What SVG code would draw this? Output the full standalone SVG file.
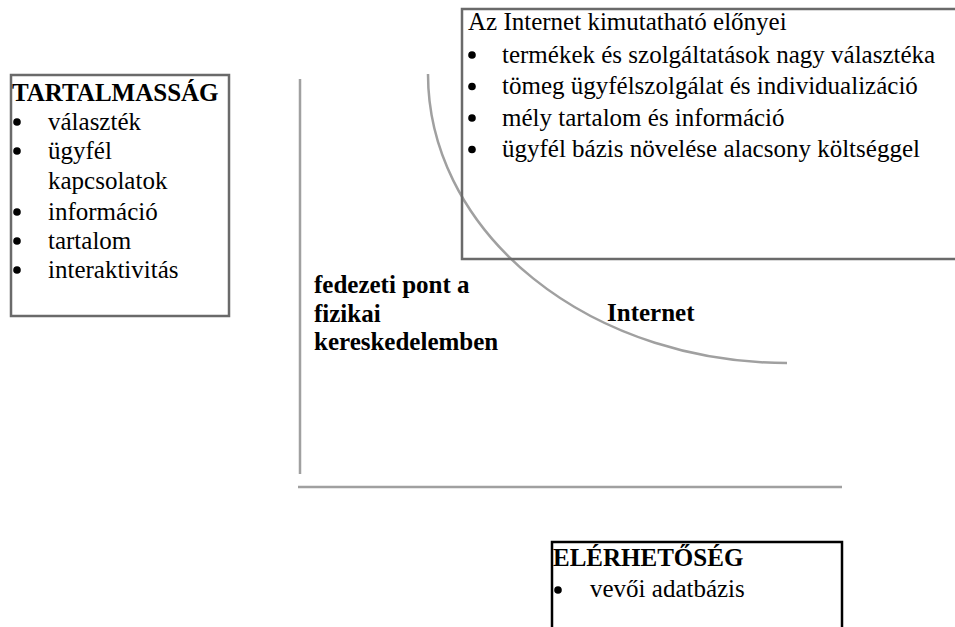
<svg xmlns="http://www.w3.org/2000/svg" width="955" height="627" viewBox="0 0 955 627">
<style>
.box{fill:none;stroke:#6a6a6a;stroke-width:2.5}
.boxk{fill:#fff;stroke:#000;stroke-width:2.5}
.ax{fill:none;stroke:#a0a0a0;stroke-width:2.5}
.t{font-family:"Liberation Serif","Times New Roman",serif;font-size:25px;fill:#000}
.b{font-weight:bold}
.dot{fill:#000}
</style>
<rect width="955" height="627" fill="#fff"/>
<g id="connectors">
<line class="ax" x1="300" y1="79" x2="300" y2="474"/>
<line class="ax" x1="298" y1="487" x2="842" y2="487"/>
<path class="ax" d="M 428 74 A 359 289 0 0 0 787 363"/>
</g>
<g id="tartalmassag">
<rect class="box" x="11" y="75" width="218" height="241"/>
<text class="t b" x="12" y="101">TARTALMASSÁG</text>
<circle class="dot" cx="17" cy="122" r="3.8"/>
<circle class="dot" cx="17" cy="151" r="3.8"/>
<circle class="dot" cx="17" cy="212" r="3.8"/>
<circle class="dot" cx="17" cy="241" r="3.8"/>
<circle class="dot" cx="17" cy="270" r="3.8"/>
<text class="t" x="48" y="130">választék</text>
<text class="t" x="48" y="159">ügyfél</text>
<text class="t" x="48" y="189">kapcsolatok</text>
<text class="t" x="48" y="220">információ</text>
<text class="t" x="48" y="249">tartalom</text>
<text class="t" x="48" y="278">interaktivitás</text>
</g>
<g id="internet-elonyei">
<rect class="box" x="462" y="9" width="500" height="250"/>
<text class="t" x="468" y="30">Az Internet kimutatható előnyei</text>
<circle class="dot" cx="472" cy="55" r="3.8"/>
<circle class="dot" cx="472" cy="86.5" r="3.8"/>
<circle class="dot" cx="472" cy="118" r="3.8"/>
<circle class="dot" cx="472" cy="149.5" r="3.8"/>
<text class="t" x="502" y="62.5">termékek és szolgáltatások nagy választéka</text>
<text class="t" x="502" y="94">tömeg ügyfélszolgálat és individualizáció</text>
<text class="t" x="502" y="125.5">mély tartalom és információ</text>
<text class="t" x="502" y="157">ügyfél bázis növelése alacsony költséggel</text>
</g>
<g id="fedezeti-pont">
<text class="t b" x="314" y="293">fedezeti pont a</text>
<text class="t b" x="314" y="322">fizikai</text>
<text class="t b" x="314" y="350">kereskedelemben</text>
</g>
<g id="internet-label">
<text class="t b" x="607" y="321">Internet</text>
</g>
<g id="elerhetoseg">
<rect class="boxk" x="552" y="542" width="290" height="100"/>
<text class="t b" x="553" y="566">ELÉRHETŐSÉG</text>
<circle class="dot" cx="558" cy="590" r="3.8"/>
<text class="t" x="590" y="597">vevői adatbázis</text>
</g>
</svg>
